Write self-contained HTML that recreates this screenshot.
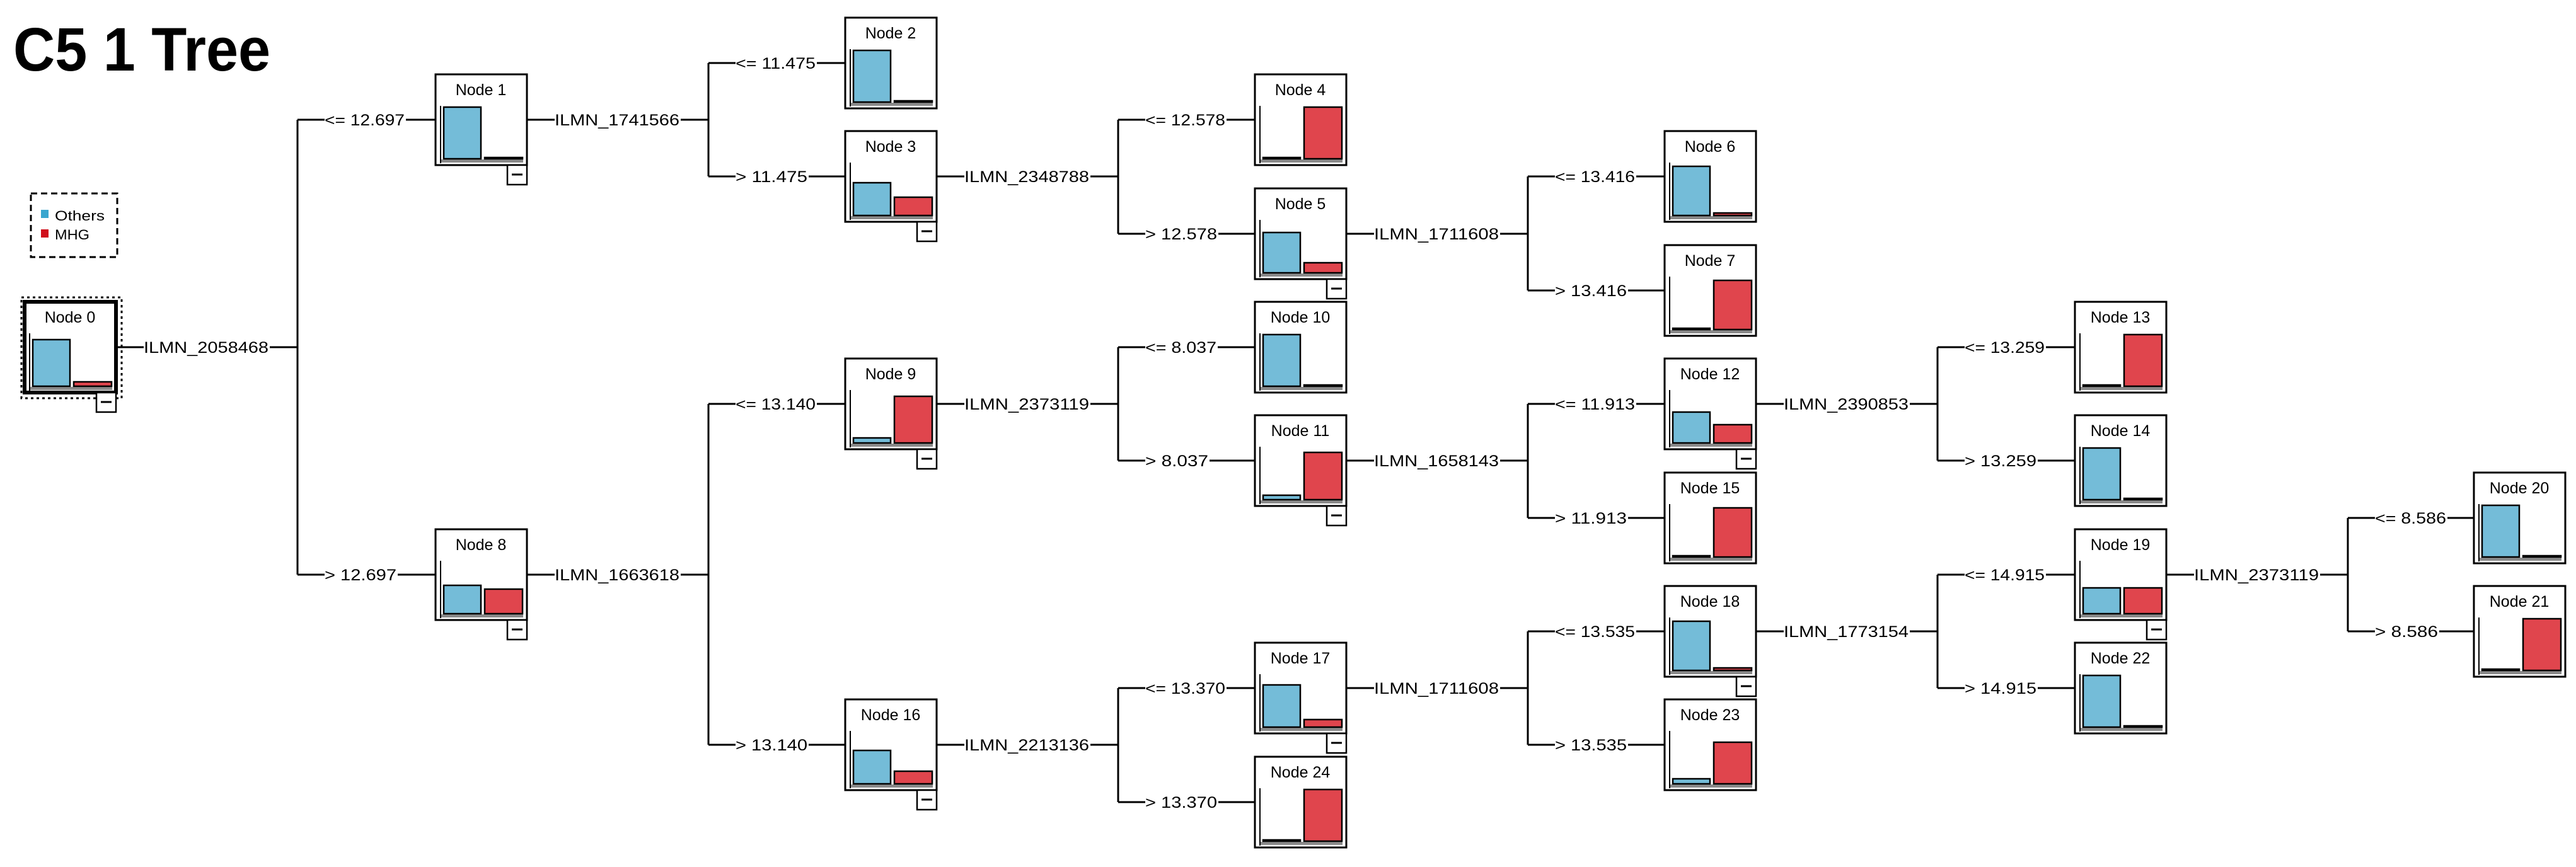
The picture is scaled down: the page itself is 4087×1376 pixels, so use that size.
<!DOCTYPE html>
<html><head><meta charset="utf-8"><style>
html,body{margin:0;padding:0;background:#fff;}
svg{display:block;}
text{font-family:"Liberation Sans",Arial,sans-serif;fill:#000;}
.t{font-size:25px;}
.nt{font-size:25px;text-anchor:middle;}
.b{fill:#74bcd8;stroke:#000;stroke-width:2.5;}
.r{fill:#e0454d;stroke:#000;stroke-width:2.5;}
.l{stroke:#000;stroke-width:3;fill:none;}
</style></head><body>
<svg width="4087" height="1376" viewBox="0 0 4087 1376" xmlns="http://www.w3.org/2000/svg">
<defs>
<g id="frame">
<rect x="0" y="0" width="145" height="144" fill="#fff" stroke="#000" stroke-width="3"/>
<line x1="8" y1="50" x2="8" y2="141" stroke="#000" stroke-width="2"/>
<rect x="9" y="135" width="130" height="5" fill="#8a8a8a"/>
</g>
<g id="btn">
<rect x="114" y="144" width="31" height="31" fill="#fff" stroke="#000" stroke-width="2.5"/>
<line x1="121" y1="159" x2="138" y2="159" stroke="#000" stroke-width="3"/>
</g>
</defs>

<text x="21" y="112" font-size="97" font-weight="bold" textLength="408" lengthAdjust="spacingAndGlyphs">C5 1 Tree</text>

<!-- legend -->
<rect x="49" y="307" width="137" height="101" fill="none" stroke="#000" stroke-width="3" stroke-dasharray="10,6"/>
<rect x="65" y="333" width="12" height="13" fill="#3aa6cf"/>
<text x="87" y="350" font-size="22" textLength="79" lengthAdjust="spacingAndGlyphs">Others</text>
<rect x="65" y="364" width="12" height="13" fill="#d0101c"/>
<text x="87" y="380" font-size="22" textLength="55" lengthAdjust="spacingAndGlyphs">MHG</text>

<!-- connectors -->
<g class="conn">
<!-- Node0 -->
<line class="l" x1="184" y1="551" x2="228" y2="551"/><text class="t" x="228" y="560" textLength="198" lengthAdjust="spacingAndGlyphs">ILMN_2058468</text><line class="l" x1="428" y1="551" x2="472" y2="551"/>
<line class="l" x1="472" y1="190" x2="472" y2="912"/>
<line class="l" x1="472" y1="190" x2="515" y2="190"/><text class="t" x="515" y="199" textLength="127" lengthAdjust="spacingAndGlyphs">&lt;= 12.697</text><line class="l" x1="644" y1="190" x2="691" y2="190"/>
<line class="l" x1="472" y1="912" x2="515" y2="912"/><text class="t" x="515" y="921" textLength="114" lengthAdjust="spacingAndGlyphs">&gt; 12.697</text><line class="l" x1="631" y1="912" x2="691" y2="912"/>
<!-- Node1 -->
<line class="l" x1="836" y1="190" x2="880" y2="190"/><text class="t" x="880" y="199" textLength="198" lengthAdjust="spacingAndGlyphs">ILMN_1741566</text><line class="l" x1="1080" y1="190" x2="1124" y2="190"/>
<line class="l" x1="1124" y1="100" x2="1124" y2="280"/>
<line class="l" x1="1124" y1="100" x2="1167" y2="100"/><text class="t" x="1167" y="109" textLength="127" lengthAdjust="spacingAndGlyphs">&lt;= 11.475</text><line class="l" x1="1296" y1="100" x2="1341" y2="100"/>
<line class="l" x1="1124" y1="280" x2="1167" y2="280"/><text class="t" x="1167" y="289" textLength="114" lengthAdjust="spacingAndGlyphs">&gt; 11.475</text><line class="l" x1="1283" y1="280" x2="1341" y2="280"/>
<!-- Node3 -->
<line class="l" x1="1486" y1="280" x2="1530" y2="280"/><text class="t" x="1530" y="289" textLength="198" lengthAdjust="spacingAndGlyphs">ILMN_2348788</text><line class="l" x1="1730" y1="280" x2="1774" y2="280"/>
<line class="l" x1="1774" y1="190" x2="1774" y2="371"/>
<line class="l" x1="1774" y1="190" x2="1817" y2="190"/><text class="t" x="1817" y="199" textLength="127" lengthAdjust="spacingAndGlyphs">&lt;= 12.578</text><line class="l" x1="1946" y1="190" x2="1991" y2="190"/>
<line class="l" x1="1774" y1="371" x2="1817" y2="371"/><text class="t" x="1817" y="380" textLength="114" lengthAdjust="spacingAndGlyphs">&gt; 12.578</text><line class="l" x1="1933" y1="371" x2="1991" y2="371"/>
<!-- Node5 -->
<line class="l" x1="2136" y1="371" x2="2180" y2="371"/><text class="t" x="2180" y="380" textLength="198" lengthAdjust="spacingAndGlyphs">ILMN_1711608</text><line class="l" x1="2380" y1="371" x2="2424" y2="371"/>
<line class="l" x1="2424" y1="280" x2="2424" y2="461"/>
<line class="l" x1="2424" y1="280" x2="2467" y2="280"/><text class="t" x="2467" y="289" textLength="127" lengthAdjust="spacingAndGlyphs">&lt;= 13.416</text><line class="l" x1="2596" y1="280" x2="2641" y2="280"/>
<line class="l" x1="2424" y1="461" x2="2467" y2="461"/><text class="t" x="2467" y="470" textLength="114" lengthAdjust="spacingAndGlyphs">&gt; 13.416</text><line class="l" x1="2583" y1="461" x2="2641" y2="461"/>
<!-- Node8 -->
<line class="l" x1="836" y1="912" x2="880" y2="912"/><text class="t" x="880" y="921" textLength="198" lengthAdjust="spacingAndGlyphs">ILMN_1663618</text><line class="l" x1="1080" y1="912" x2="1124" y2="912"/>
<line class="l" x1="1124" y1="641" x2="1124" y2="1182"/>
<line class="l" x1="1124" y1="641" x2="1167" y2="641"/><text class="t" x="1167" y="650" textLength="127" lengthAdjust="spacingAndGlyphs">&lt;= 13.140</text><line class="l" x1="1296" y1="641" x2="1341" y2="641"/>
<line class="l" x1="1124" y1="1182" x2="1167" y2="1182"/><text class="t" x="1167" y="1191" textLength="114" lengthAdjust="spacingAndGlyphs">&gt; 13.140</text><line class="l" x1="1283" y1="1182" x2="1341" y2="1182"/>
<!-- Node9 -->
<line class="l" x1="1486" y1="641" x2="1530" y2="641"/><text class="t" x="1530" y="650" textLength="198" lengthAdjust="spacingAndGlyphs">ILMN_2373119</text><line class="l" x1="1730" y1="641" x2="1774" y2="641"/>
<line class="l" x1="1774" y1="551" x2="1774" y2="731"/>
<line class="l" x1="1774" y1="551" x2="1817" y2="551"/><text class="t" x="1817" y="560" textLength="113" lengthAdjust="spacingAndGlyphs">&lt;= 8.037</text><line class="l" x1="1932" y1="551" x2="1991" y2="551"/>
<line class="l" x1="1774" y1="731" x2="1817" y2="731"/><text class="t" x="1817" y="740" textLength="100" lengthAdjust="spacingAndGlyphs">&gt; 8.037</text><line class="l" x1="1919" y1="731" x2="1991" y2="731"/>
<!-- Node11 -->
<line class="l" x1="2136" y1="731" x2="2180" y2="731"/><text class="t" x="2180" y="740" textLength="198" lengthAdjust="spacingAndGlyphs">ILMN_1658143</text><line class="l" x1="2380" y1="731" x2="2424" y2="731"/>
<line class="l" x1="2424" y1="641" x2="2424" y2="822"/>
<line class="l" x1="2424" y1="641" x2="2467" y2="641"/><text class="t" x="2467" y="650" textLength="127" lengthAdjust="spacingAndGlyphs">&lt;= 11.913</text><line class="l" x1="2596" y1="641" x2="2641" y2="641"/>
<line class="l" x1="2424" y1="822" x2="2467" y2="822"/><text class="t" x="2467" y="831" textLength="114" lengthAdjust="spacingAndGlyphs">&gt; 11.913</text><line class="l" x1="2583" y1="822" x2="2641" y2="822"/>
<!-- Node12 -->
<line class="l" x1="2786" y1="641" x2="2830" y2="641"/><text class="t" x="2830" y="650" textLength="198" lengthAdjust="spacingAndGlyphs">ILMN_2390853</text><line class="l" x1="3030" y1="641" x2="3074" y2="641"/>
<line class="l" x1="3074" y1="551" x2="3074" y2="731"/>
<line class="l" x1="3074" y1="551" x2="3117" y2="551"/><text class="t" x="3117" y="560" textLength="127" lengthAdjust="spacingAndGlyphs">&lt;= 13.259</text><line class="l" x1="3246" y1="551" x2="3292" y2="551"/>
<line class="l" x1="3074" y1="731" x2="3117" y2="731"/><text class="t" x="3117" y="740" textLength="114" lengthAdjust="spacingAndGlyphs">&gt; 13.259</text><line class="l" x1="3233" y1="731" x2="3292" y2="731"/>
<!-- Node16 -->
<line class="l" x1="1486" y1="1182" x2="1530" y2="1182"/><text class="t" x="1530" y="1191" textLength="198" lengthAdjust="spacingAndGlyphs">ILMN_2213136</text><line class="l" x1="1730" y1="1182" x2="1774" y2="1182"/>
<line class="l" x1="1774" y1="1092" x2="1774" y2="1273"/>
<line class="l" x1="1774" y1="1092" x2="1817" y2="1092"/><text class="t" x="1817" y="1101" textLength="127" lengthAdjust="spacingAndGlyphs">&lt;= 13.370</text><line class="l" x1="1946" y1="1092" x2="1991" y2="1092"/>
<line class="l" x1="1774" y1="1273" x2="1817" y2="1273"/><text class="t" x="1817" y="1282" textLength="114" lengthAdjust="spacingAndGlyphs">&gt; 13.370</text><line class="l" x1="1933" y1="1273" x2="1991" y2="1273"/>
<!-- Node17 -->
<line class="l" x1="2136" y1="1092" x2="2180" y2="1092"/><text class="t" x="2180" y="1101" textLength="198" lengthAdjust="spacingAndGlyphs">ILMN_1711608</text><line class="l" x1="2380" y1="1092" x2="2424" y2="1092"/>
<line class="l" x1="2424" y1="1002" x2="2424" y2="1182"/>
<line class="l" x1="2424" y1="1002" x2="2467" y2="1002"/><text class="t" x="2467" y="1011" textLength="127" lengthAdjust="spacingAndGlyphs">&lt;= 13.535</text><line class="l" x1="2596" y1="1002" x2="2641" y2="1002"/>
<line class="l" x1="2424" y1="1182" x2="2467" y2="1182"/><text class="t" x="2467" y="1191" textLength="114" lengthAdjust="spacingAndGlyphs">&gt; 13.535</text><line class="l" x1="2583" y1="1182" x2="2641" y2="1182"/>
<!-- Node18 -->
<line class="l" x1="2786" y1="1002" x2="2830" y2="1002"/><text class="t" x="2830" y="1011" textLength="198" lengthAdjust="spacingAndGlyphs">ILMN_1773154</text><line class="l" x1="3030" y1="1002" x2="3074" y2="1002"/>
<line class="l" x1="3074" y1="912" x2="3074" y2="1092"/>
<line class="l" x1="3074" y1="912" x2="3117" y2="912"/><text class="t" x="3117" y="921" textLength="127" lengthAdjust="spacingAndGlyphs">&lt;= 14.915</text><line class="l" x1="3246" y1="912" x2="3292" y2="912"/>
<line class="l" x1="3074" y1="1092" x2="3117" y2="1092"/><text class="t" x="3117" y="1101" textLength="114" lengthAdjust="spacingAndGlyphs">&gt; 14.915</text><line class="l" x1="3233" y1="1092" x2="3292" y2="1092"/>
<!-- Node19 -->
<line class="l" x1="3437" y1="912" x2="3481" y2="912"/><text class="t" x="3481" y="921" textLength="198" lengthAdjust="spacingAndGlyphs">ILMN_2373119</text><line class="l" x1="3681" y1="912" x2="3725" y2="912"/>
<line class="l" x1="3725" y1="822" x2="3725" y2="1002"/>
<line class="l" x1="3725" y1="822" x2="3768" y2="822"/><text class="t" x="3768" y="831" textLength="113" lengthAdjust="spacingAndGlyphs">&lt;= 8.586</text><line class="l" x1="3883" y1="822" x2="3925" y2="822"/>
<line class="l" x1="3725" y1="1002" x2="3768" y2="1002"/><text class="t" x="3768" y="1011" textLength="100" lengthAdjust="spacingAndGlyphs">&gt; 8.586</text><line class="l" x1="3870" y1="1002" x2="3925" y2="1002"/>
</g>

<!-- nodes -->
<rect x="34" y="472" width="159" height="160" fill="none" stroke="#000" stroke-width="3" stroke-dasharray="4,5"/>
<g transform="translate(39,479)"><use href="#frame"/><rect x="0" y="0" width="145" height="144" fill="none" stroke="#000" stroke-width="6"/><rect class="b" x="13" y="60" width="59" height="74"/><rect class="r" x="78" y="127" width="60" height="7"/><text class="nt" x="72" y="33">Node 0</text><use href="#btn"/></g>

<g transform="translate(691,118)"><use href="#frame"/><rect class="b" x="13" y="52" width="59" height="82"/><rect class="r" x="78" y="132" width="60" height="2"/><text class="nt" x="72" y="33">Node 1</text><use href="#btn"/></g>
<g transform="translate(691,840)"><use href="#frame"/><rect class="b" x="13" y="89" width="59" height="45"/><rect class="r" x="78" y="95" width="60" height="39"/><text class="nt" x="72" y="33">Node 8</text><use href="#btn"/></g>

<g transform="translate(1341,28)"><use href="#frame"/><rect class="b" x="13" y="52" width="59" height="82"/><rect class="r" x="78" y="132" width="60" height="2"/><text class="nt" x="72" y="33">Node 2</text></g>
<g transform="translate(1341,208)"><use href="#frame"/><rect class="b" x="13" y="82" width="59" height="52"/><rect class="r" x="78" y="105" width="60" height="29"/><text class="nt" x="72" y="33">Node 3</text><use href="#btn"/></g>
<g transform="translate(1341,569)"><use href="#frame"/><rect class="b" x="13" y="126" width="59" height="8"/><rect class="r" x="78" y="60" width="60" height="74"/><text class="nt" x="72" y="33">Node 9</text><use href="#btn"/></g>
<g transform="translate(1341,1110)"><use href="#frame"/><rect class="b" x="13" y="81" width="59" height="53"/><rect class="r" x="78" y="114" width="60" height="20"/><text class="nt" x="72" y="33">Node 16</text><use href="#btn"/></g>

<g transform="translate(1991,118)"><use href="#frame"/><rect class="b" x="13" y="132" width="59" height="2"/><rect class="r" x="78" y="52" width="60" height="82"/><text class="nt" x="72" y="33">Node 4</text></g>
<g transform="translate(1991,299)"><use href="#frame"/><rect class="b" x="13" y="70" width="59" height="64"/><rect class="r" x="78" y="118" width="60" height="16"/><text class="nt" x="72" y="33">Node 5</text><use href="#btn"/></g>
<g transform="translate(1991,479)"><use href="#frame"/><rect class="b" x="13" y="52" width="59" height="82"/><rect class="r" x="78" y="132" width="60" height="2"/><text class="nt" x="72" y="33">Node 10</text></g>
<g transform="translate(1991,659)"><use href="#frame"/><rect class="b" x="13" y="127" width="59" height="7"/><rect class="r" x="78" y="59" width="60" height="75"/><text class="nt" x="72" y="33">Node 11</text><use href="#btn"/></g>
<g transform="translate(1991,1201)"><use href="#frame"/><rect class="b" x="13" y="132" width="59" height="2"/><rect class="r" x="78" y="52" width="60" height="82"/><text class="nt" x="72" y="33">Node 24</text></g>
<g transform="translate(1991,1020)"><use href="#frame"/><rect class="b" x="13" y="67" width="59" height="67"/><rect class="r" x="78" y="122" width="60" height="12"/><text class="nt" x="72" y="33">Node 17</text><use href="#btn"/></g>

<g transform="translate(2641,208)"><use href="#frame"/><rect class="b" x="13" y="56" width="59" height="78"/><rect class="r" x="78" y="130" width="60" height="4"/><text class="nt" x="72" y="33">Node 6</text></g>
<g transform="translate(2641,389)"><use href="#frame"/><rect class="b" x="13" y="132" width="59" height="2"/><rect class="r" x="78" y="56" width="60" height="78"/><text class="nt" x="72" y="33">Node 7</text></g>
<g transform="translate(2641,569)"><use href="#frame"/><rect class="b" x="13" y="85" width="59" height="49"/><rect class="r" x="78" y="105" width="60" height="29"/><text class="nt" x="72" y="33">Node 12</text><use href="#btn"/></g>
<g transform="translate(2641,750)"><use href="#frame"/><rect class="b" x="13" y="132" width="59" height="2"/><rect class="r" x="78" y="56" width="60" height="78"/><text class="nt" x="72" y="33">Node 15</text></g>
<g transform="translate(2641,1110)"><use href="#frame"/><rect class="b" x="13" y="126" width="59" height="8"/><rect class="r" x="78" y="68" width="60" height="66"/><text class="nt" x="72" y="33">Node 23</text></g>
<g transform="translate(2641,930)"><use href="#frame"/><rect class="b" x="13" y="56" width="59" height="78"/><rect class="r" x="78" y="130" width="60" height="4"/><text class="nt" x="72" y="33">Node 18</text><use href="#btn"/></g>

<g transform="translate(3292,479)"><use href="#frame"/><rect class="b" x="13" y="132" width="59" height="2"/><rect class="r" x="78" y="52" width="60" height="82"/><text class="nt" x="72" y="33">Node 13</text></g>
<g transform="translate(3292,659)"><use href="#frame"/><rect class="b" x="13" y="52" width="59" height="82"/><rect class="r" x="78" y="132" width="60" height="2"/><text class="nt" x="72" y="33">Node 14</text></g>
<g transform="translate(3292,1020)"><use href="#frame"/><rect class="b" x="13" y="52" width="59" height="82"/><rect class="r" x="78" y="132" width="60" height="2"/><text class="nt" x="72" y="33">Node 22</text></g>
<g transform="translate(3292,840)"><use href="#frame"/><rect class="b" x="13" y="93" width="59" height="41"/><rect class="r" x="78" y="93" width="60" height="41"/><text class="nt" x="72" y="33">Node 19</text><use href="#btn"/></g>

<g transform="translate(3925,750)"><use href="#frame"/><rect class="b" x="13" y="52" width="59" height="82"/><rect class="r" x="78" y="132" width="60" height="2"/><text class="nt" x="72" y="33">Node 20</text></g>
<g transform="translate(3925,930)"><use href="#frame"/><rect class="b" x="13" y="132" width="59" height="2"/><rect class="r" x="78" y="52" width="60" height="82"/><text class="nt" x="72" y="33">Node 21</text></g>
</svg>
</body></html>
